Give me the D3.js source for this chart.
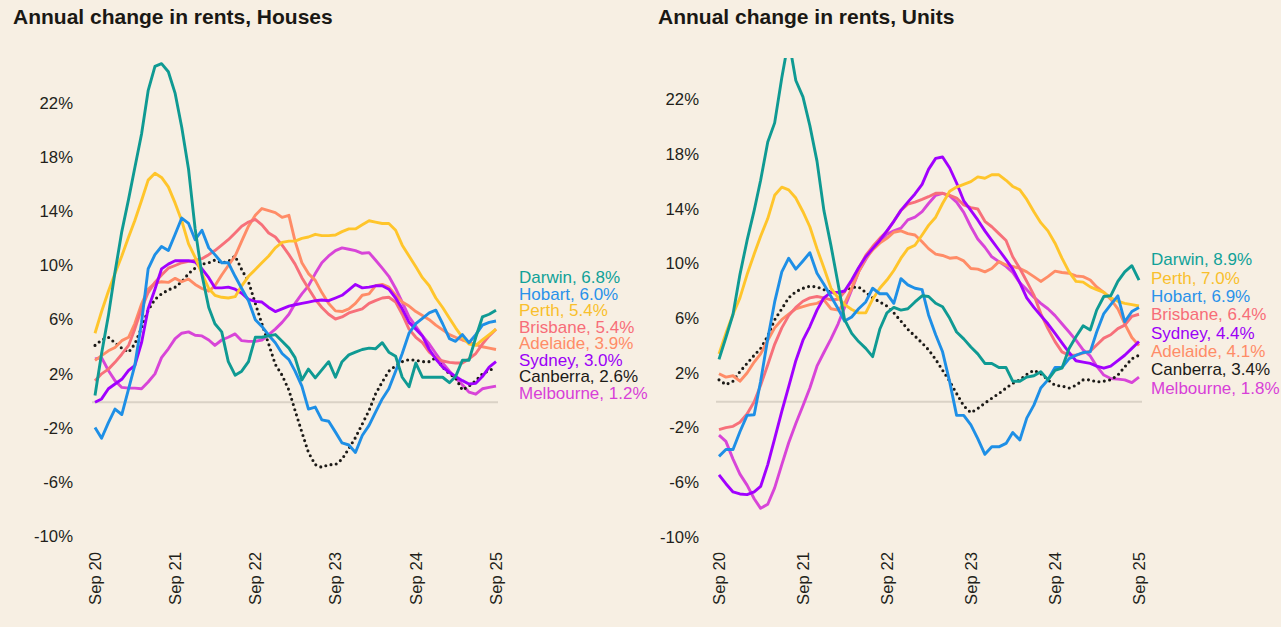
<!DOCTYPE html>
<html><head><meta charset="utf-8">
<script src="https://cdn.jsdelivr.net/npm/d3@7"></script>
<style>
html,body{margin:0;padding:0;background:#f7efe3;}
svg{display:block;}
text{font-family:"Liberation Sans",Arial,sans-serif;}
</style></head>
<body>
<svg id="chart" width="1281" height="627"></svg>
<script>
// ---------- DATA ----------
const cities = ["Darwin","Hobart","Perth","Brisbane","Adelaide","Sydney","Canberra","Melbourne"];
const housesLegendOrder = ["Darwin","Hobart","Perth","Brisbane","Adelaide","Sydney","Canberra","Melbourne"];
const unitsLegendOrder  = ["Darwin","Perth","Hobart","Brisbane","Sydney","Adelaide","Canberra","Melbourne"];
const drawOrder = ["Melbourne","Canberra","Adelaide","Brisbane","Sydney","Perth","Hobart","Darwin"];
const xTickLabels = ["Sep 20","Sep 21","Sep 22","Sep 23","Sep 24","Sep 25"];
const yTickValues = [-10,-6,-2,2,6,10,14,18,22];
const titles = ["Annual change in rents, Houses","Annual change in rents, Units"];

// Monthly, Sep 2020 .. Sep 2025 (61 points), % annual change
const houses_Darwin = [0.5,3.6,6.4,9.6,12.6,15.0,17.3,19.8,23.0,24.8,
 25.0,24.4,22.8,20.3,17.2,12.8,9.4,7.0,5.8,5.2,
 3.0,2.0,2.3,3.0,4.8,4.8,4.9,5.0,4.5,4.0,
 3.3,1.65,2.45,1.8,2.4,3.0,1.85,3.0,3.5,3.7,
 3.9,4.0,3.95,4.4,3.7,3.4,1.85,1.15,2.9,1.85,
 1.85,1.85,1.85,1.45,1.9,3.1,3.1,4.8,6.3,6.5,
 6.8];
const houses_Hobart = [-1.85,-2.65,-1.5,-0.5,-0.9,1.0,2.7,5.9,9.85,10.9,
 11.5,11.2,12.4,13.6,13.2,12.0,12.7,11.4,10.9,10.3,
 10.3,9.3,8.4,7.5,6.1,5.6,4.95,4.4,3.6,3.15,
 2.3,1.2,-0.5,-0.35,-1.3,-1.4,-2.2,-3.0,-3.15,-3.7,
 -2.45,-1.7,-0.75,0.25,1.0,2.3,3.6,5.1,5.8,6.2,
 6.6,6.8,5.8,4.7,4.5,5.0,4.4,5.0,5.7,5.9,
 6.0];
const houses_Perth = [5.1,6.7,8.2,9.5,10.8,12.2,13.4,14.9,16.4,16.9,
 16.6,15.9,14.7,13.4,11.7,10.7,9.5,8.4,7.9,7.75,
 7.7,7.8,8.6,9.3,9.8,10.3,10.8,11.4,11.8,11.9,
 11.9,12.1,12.2,12.4,12.3,12.3,12.35,12.6,12.8,12.8,
 13.1,13.4,13.3,13.2,13.2,12.7,11.6,10.8,10.0,9.2,
 8.6,7.7,7.0,6.2,5.5,4.8,4.3,4.2,4.6,5.0,
 5.4];
const houses_Brisbane = [1.6,2.1,2.45,2.95,3.55,4.2,5.4,6.9,8.1,8.85,
 9.4,9.9,10.1,10.3,10.4,10.5,10.6,10.9,11.2,11.6,
 12.0,12.5,13.0,13.3,13.5,13.1,12.5,12.2,11.6,10.9,
 10.2,9.2,8.4,7.6,7.0,6.5,6.15,6.3,6.6,6.75,
 6.9,7.3,7.5,7.7,7.75,7.4,6.5,5.4,4.8,4.4,
 3.7,3.3,3.05,2.95,2.9,2.9,3.2,3.6,4.3,4.9,
 5.4];
const houses_Adelaide = [3.1,3.45,3.8,4.05,4.55,4.8,5.8,7.25,8.35,8.8,
 8.9,8.85,9.15,8.9,9.1,8.7,8.4,8.2,8.6,9.4,
 10.1,10.8,11.9,13.0,13.8,14.3,14.15,14.0,13.65,13.8,
 11.9,10.3,9.5,9.0,8.1,7.3,6.75,6.7,6.9,7.3,
 7.9,8.0,8.6,8.7,8.5,7.9,7.4,7.1,6.7,6.4,
 6.1,5.7,5.35,5.0,4.8,4.6,4.45,4.25,4.1,4.0,
 3.9];
const houses_Sydney = [0.0,0.25,1.0,1.35,1.7,2.35,2.7,4.4,6.9,8.35,
 9.85,10.2,10.45,10.45,10.45,10.35,9.85,9.2,8.45,8.45,
 8.5,8.35,8.05,7.6,7.45,7.4,7.0,6.7,6.9,7.1,
 7.2,7.3,7.4,7.5,7.55,7.5,7.7,7.9,8.3,8.7,
 8.45,8.5,8.6,8.6,8.35,7.7,6.9,5.9,5.4,4.9,
 3.9,3.2,2.6,2.2,1.9,1.6,1.35,1.4,1.9,2.6,
 3.0];
const houses_Canberra = [4.2,4.6,4.8,4.4,4.0,3.7,4.3,5.5,6.8,7.6,
 8.0,8.3,8.5,8.9,9.5,9.9,10.2,10.3,10.5,10.3,
 10.4,10.8,9.8,8.9,7.3,5.8,4.3,2.8,2.0,0.9,
 -0.6,-2.2,-3.7,-4.6,-4.8,-4.6,-4.6,-4.2,-3.4,-2.6,
 -1.6,-0.6,0.6,1.5,2.3,2.7,3.0,3.15,3.1,3.0,
 3.0,3.3,2.6,2.1,1.8,0.9,1.2,1.6,2.1,2.35,
 2.6];
const houses_Melbourne = [3.2,3.3,2.35,1.6,1.1,1.05,1.05,1.0,1.5,2.1,
 3.3,3.95,4.7,5.1,5.2,4.95,4.9,4.6,4.2,4.6,
 4.8,5.05,4.55,4.5,4.5,4.6,5.0,5.4,5.9,6.5,
 7.3,8.0,8.6,9.5,10.3,10.8,11.2,11.4,11.3,11.2,
 11.0,11.05,10.5,9.9,9.3,8.4,7.4,6.3,5.6,4.9,
 4.3,3.6,2.9,2.3,1.8,1.3,0.75,0.6,1.0,1.1,
 1.2];

const units_Darwin = [3.1,4.7,6.4,9.3,11.8,14.0,16.2,19.0,20.4,23.7,
 26.5,23.5,22.3,20.2,17.6,14.0,11.4,8.6,6.0,5.0,
 4.4,3.9,3.3,5.3,6.5,6.9,6.7,6.8,7.3,7.75,
 7.7,7.2,6.95,6.1,5.1,4.6,4.0,3.5,2.8,2.8,
 2.5,2.5,1.5,1.5,1.8,1.9,2.2,1.6,2.3,2.45,
 3.9,4.75,5.55,5.25,6.7,7.7,7.75,8.8,9.5,9.95,
 8.9];
const units_Perth = [3.5,5.0,6.4,7.6,9.3,10.8,12.1,13.4,15.1,15.7,
 15.5,14.9,13.9,12.8,11.2,9.8,8.3,7.6,7.1,6.75,
 6.5,6.5,7.5,8.3,8.9,9.6,10.5,11.2,11.45,12.2,
 12.9,13.5,14.5,15.4,15.7,15.9,16.1,16.45,16.35,16.6,
 16.6,16.2,15.75,15.5,14.8,13.9,13.1,12.5,11.6,10.5,
 9.5,8.8,8.75,8.4,8.2,8.0,7.6,7.35,7.2,7.1,
 7.0];
const units_Hobart = [-4.0,-3.5,-3.5,-2.2,-1.0,-0.95,1.5,4.6,7.3,9.5,
 10.5,9.7,10.3,10.9,9.4,8.6,7.7,6.8,5.9,6.2,
 6.8,7.3,8.3,7.9,7.9,7.2,9.0,8.55,8.3,8.2,
 6.35,4.9,3.65,1.45,-1.0,-1.0,-1.7,-2.7,-3.85,-3.3,
 -3.3,-3.05,-2.25,-2.8,-1.2,-0.25,1.0,1.6,2.5,2.5,
 3.15,3.4,3.6,3.65,5.1,6.45,7.1,7.75,5.85,6.6,
 6.9];
const units_Brisbane = [-2.05,-1.9,-1.8,-1.5,-0.9,0.0,1.2,2.7,4.2,5.4,
 6.3,6.9,7.35,7.6,7.7,7.6,7.45,7.5,8.05,8.8,
 9.75,10.7,11.35,11.95,12.45,13.2,14.0,14.45,14.6,14.8,
 15.0,15.25,15.25,15.1,14.9,14.4,14.2,14.1,13.2,12.8,
 12.3,11.8,10.6,9.75,8.8,7.8,6.45,5.35,4.4,3.65,
 3.4,3.4,3.55,3.7,4.15,4.65,4.9,5.35,5.6,6.25,
 6.4];
const units_Adelaide = [2.05,1.8,1.9,1.5,2.1,2.9,3.5,4.5,5.4,6.0,
 6.4,6.8,6.95,7.1,7.2,7.45,6.8,6.7,7.2,8.3,
 9.5,10.5,11.1,11.6,11.95,12.4,12.5,12.3,12.2,11.7,
 11.2,10.8,10.7,10.5,10.55,10.3,9.75,9.7,9.5,9.75,
 10.25,10.0,9.9,9.75,9.5,9.15,8.8,9.15,9.55,9.45,
 9.4,9.2,9.15,8.9,8.4,8.0,7.5,6.8,5.7,4.7,
 4.1];
const units_Sydney = [-5.35,-6.0,-6.6,-6.75,-6.8,-6.6,-6.2,-4.6,-2.7,-0.7,
 1.1,3.0,4.5,5.5,6.7,7.6,8.0,8.0,8.1,8.9,
 9.8,10.6,11.2,11.8,12.5,13.2,14.0,14.6,15.2,15.9,
 17.0,17.8,17.9,17.1,16.0,14.7,14.0,13.3,12.5,11.8,
 11.1,10.4,9.7,8.7,7.6,6.9,6.3,5.7,5.0,4.3,
 3.6,3.0,2.9,2.8,2.6,2.45,2.6,3.0,3.4,3.9,
 4.4];
const units_Canberra = [1.6,1.25,1.5,2.2,2.8,3.4,3.9,4.8,6.0,6.8,
 7.6,8.05,8.3,8.45,8.4,8.2,8.0,7.9,8.1,8.35,
 8.4,8.0,7.6,7.3,7.0,6.5,5.9,5.3,4.8,4.3,
 3.8,3.1,2.3,1.5,0.6,-0.3,-0.8,-0.5,-0.1,0.25,
 0.6,1.0,1.35,1.6,2.0,2.3,2.05,1.6,1.2,1.15,
 1.0,1.2,1.6,1.6,1.45,1.5,1.6,1.95,2.55,3.15,
 3.4];
const units_Melbourne = [-2.45,-2.9,-4.2,-5.3,-6.1,-7.1,-7.8,-7.5,-6.3,-4.6,
 -3.0,-1.6,-0.3,1.0,2.6,3.6,4.6,5.7,6.9,8.2,
 9.5,10.4,11.2,11.7,12.25,12.5,12.7,13.3,13.5,13.9,
 14.5,15.1,15.25,15.05,14.6,13.85,12.8,11.9,11.3,10.6,
 10.25,9.9,9.45,8.7,8.2,7.65,7.2,6.8,6.3,5.7,
 5.1,4.5,3.8,3.35,2.6,1.95,1.7,1.65,1.6,1.4,
 1.8];

// ---------- STYLE ----------
const lineColor = {Darwin:"#0f9a93",Hobart:"#1e8fe6",Perth:"#ffc52b",Brisbane:"#f7707a",
  Adelaide:"#ff8c67",Sydney:"#a100ff",Canberra:"#1c1a17",Melbourne:"#d845d8"};
const textColor = {Darwin:"#10a198",Hobart:"#2a92ea",Perth:"#f9bf2c",Brisbane:"#f76d78",
  Adelaide:"#ff8c67",Sydney:"#9b00f7",Canberra:"#1c1a17",Melbourne:"#d83fd8"};

const months = d3.timeMonth.range(new Date(2020,8,1), new Date(2025,9,1));
const housesData = {Darwin:houses_Darwin,Hobart:houses_Hobart,Perth:houses_Perth,Brisbane:houses_Brisbane,
  Adelaide:houses_Adelaide,Sydney:houses_Sydney,Canberra:houses_Canberra,Melbourne:houses_Melbourne};
const unitsData = {Darwin:units_Darwin,Hobart:units_Hobart,Perth:units_Perth,Brisbane:units_Brisbane,
  Adelaide:units_Adelaide,Sydney:units_Sydney,Canberra:units_Canberra,Melbourne:units_Melbourne};

const panels = [
  {title:titles[0], titleX:13, x0:95, x1:496, yB:537.8, yT:63.6, zx0:92, zx1:498, tickR:73,
   legX:519, legY0:277.5, legStep:16.5, data:housesData, order:housesLegendOrder, clipTop:40},
  {title:titles[1], titleX:658, x0:719, x1:1139, yB:538.4, yT:60.0, zx0:716, zx1:1142, tickR:699,
   legX:1151, legY0:259.5, legStep:18.3, data:unitsData, order:unitsLegendOrder, clipTop:58}
];

const svg = d3.select("#chart");
svg.append("rect").attr("width",1281).attr("height",627).attr("fill","#f7efe3");

panels.forEach((p,pi)=>{
  const g = svg.append("g");
  const x = d3.scaleTime().domain([months[0], months[months.length-1]]).range([p.x0,p.x1]);
  const y = d3.scaleLinear().domain([-10,25]).range([p.yB,p.yT]);

  g.append("text").attr("x",p.titleX).attr("y",24)
    .attr("font-size","21px").attr("font-weight","bold").attr("fill","#1a1814")
    .text(p.title);

  // y tick labels
  g.selectAll("text.yt").data(yTickValues).join("text").attr("class","yt")
    .attr("x",p.tickR).attr("y",d=>y(d)-1.5).attr("dy","0.35em")
    .attr("text-anchor","end").attr("font-size","16.7px").attr("fill","#231f1a")
    .text(d=>d+"%");

  // x tick labels
  const xTicks = months.filter(d=>d.getMonth()===8);
  g.selectAll("text.xt").data(xTicks).join("text").attr("class","xt")
    .attr("transform",d=>`translate(${x(d)},552) rotate(-90)`)
    .attr("dy","0.35em").attr("text-anchor","end")
    .attr("font-size","16.7px").attr("fill","#231f1a")
    .text((d,i)=>xTickLabels[i]);

  // zero line
  g.append("line").attr("x1",p.zx0).attr("x2",p.zx1).attr("y1",y(0)).attr("y2",y(0))
    .attr("stroke","#dad2c6").attr("stroke-width",2);

  const clipId = "clip"+pi;
  svg.append("clipPath").attr("id",clipId).append("rect")
    .attr("x",p.x0-10).attr("y",p.clipTop).attr("width",p.x1-p.x0+20).attr("height",600-p.clipTop);

  const line = d3.line().x((d,i)=>x(months[i])).y(d=>y(d));
  const lg = g.append("g").attr("clip-path",`url(#${clipId})`);
  drawOrder.forEach(c=>{
    const path = lg.append("path").datum(p.data[c]).attr("d",line)
      .attr("fill","none").attr("stroke",lineColor[c])
      .attr("stroke-linejoin","round");
    if(c==="Canberra"){
      path.attr("stroke-width",3.1).attr("stroke-dasharray","0 5.4").attr("stroke-linecap","round");
    } else {
      path.attr("stroke-width",2.9).attr("stroke-linecap","butt");
    }
  });

  // legend labels
  g.selectAll("text.lg").data(p.order).join("text").attr("class","lg")
    .attr("x",p.legX).attr("y",(d,i)=>p.legY0+i*p.legStep).attr("dy","0.35em")
    .attr("font-size","17px").attr("fill",d=>textColor[d])
    .text(d=>`${d}, ${p.data[d][p.data[d].length-1].toFixed(1)}%`);
});
</script>
</body></html>
